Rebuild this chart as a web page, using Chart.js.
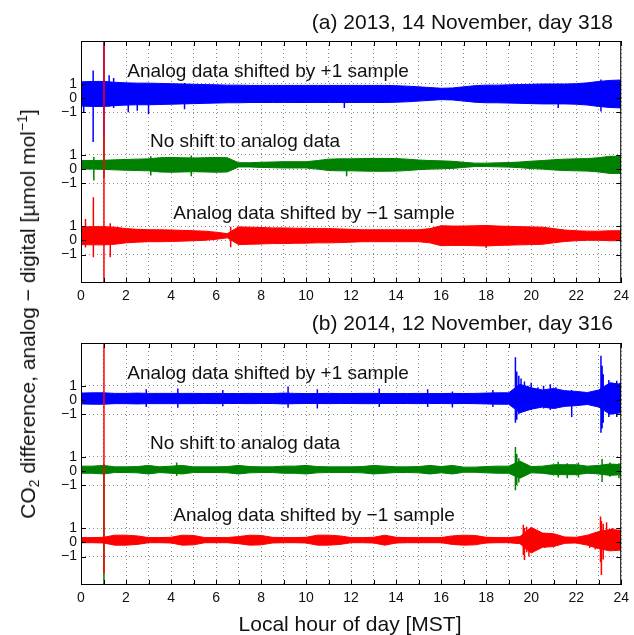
<!DOCTYPE html>
<html lang="en">
<head>
<meta charset="UTF-8">
<title>CO2 analog - digital</title>
<style>
  body { margin: 0; background: #fff; }
  #wrap { position: relative; width: 634px; height: 635px; font-family: "Liberation Sans", Arial, sans-serif; color: #111; }
  canvas { position: absolute; left: 0; }
  .txt { position: absolute; white-space: nowrap; line-height: 1; transform: translate(-50%, -50%); }
  .ttl { position: absolute; white-space: nowrap; line-height: 1; right: 21px; font-size: 21px; transform: translateY(-50%); }
  .note { font-size: 19px; }
  #ylab { font-size: 21px; transform: translate(-50%, -50%) rotate(-90deg); }
  #ylab sub, #ylab sup { font-size: 14px; }
  #ylab sub { vertical-align: -4px; }
  #ylab sup { vertical-align: 8px; }
  #xlab { font-size: 21px; }
</style>
</head>
<body>
<div id="wrap">
  <canvas id="chartA" width="634" height="310" style="top:0"></canvas>
  <canvas id="chartB" width="634" height="325" style="top:310px"></canvas>

  <div class="ttl" style="top:21px">(a) 2013, 14 November, day 318</div>
  <div class="ttl" style="top:322px">(b) 2014, 12 November, day 316</div>

  <div class="txt note" style="left:268px; top:70px">Analog data shifted by +1 sample</div>
  <div class="txt note" style="left:245px; top:140px">No shift to analog data</div>
  <div class="txt note" style="left:314px; top:212px">Analog data shifted by −1 sample</div>
  <div class="txt note" style="left:268px; top:372px">Analog data shifted by +1 sample</div>
  <div class="txt note" style="left:245px; top:442px">No shift to analog data</div>
  <div class="txt note" style="left:314px; top:514px">Analog data shifted by −1 sample</div>

  <div class="txt" id="ylab" style="left:28px; top:314px">CO<sub>2</sub> difference, analog − digital [µmol mol<sup>−1</sup>]</div>
  <div class="txt" id="xlab" style="left:350px; top:623px">Local hour of day [MST]</div>
</div>

<script src="https://cdn.jsdelivr.net/npm/chart.js"></script>
<script>
  // half-hour grid, local hour
  const hours = [0,0.5,1,1.5,2,2.5,3,3.5,4,4.5,
                 5,5.5,6,6.5,7,7.5,8,8.5,9,9.5,
                 10,10.5,11,11.5,12,12.5,13,13.5,14,14.5,
                 15,15.5,16,16.5,17,17.5,18,18.5,19,19.5,
                 20,20.5,21,21.5,22,22.5,23,23.5,24];

  // each trace is drawn around its own zero line
  const trackOffset = [5, 0, -5];   // +1 sample, no shift, -1 sample
  const yTickVals = [6, 5, 4, 1, 0, -1, -4, -5, -6];
  const yTickText = ["1", "0", "\u22121", "1", "0", "\u22121", "1", "0", "\u22121"];
  const xTickVals = [0,1,2,3,4,5,6,7,8,9,10,11,12,13,14,15,16,17,18,19,20,21,22,23,24];

  // (a) 2013 day 318 : band middle and half width of the noise, umol/mol
  const aBlueMid = 0.28;
  const aBlueHalf = [0.85,0.88,0.88,0.82,0.78,0.76,0.76,0.74,0.72,0.70,
                     0.68,0.66,0.64,0.62,0.62,0.60,0.60,0.60,0.60,0.60,
                     0.60,0.60,0.60,0.60,0.60,0.60,0.60,0.60,0.58,0.55,
                     0.50,0.45,0.40,0.42,0.50,0.58,0.62,0.62,0.64,0.66,
                     0.68,0.70,0.70,0.70,0.72,0.78,0.88,0.95,0.98];
  const aGreenMid = 0.3;
  const aGreenHalf = [0.30,0.30,0.32,0.35,0.38,0.40,0.42,0.50,0.52,0.50,
                      0.48,0.50,0.52,0.50,0.15,0.15,0.18,0.20,0.22,0.22,
                      0.22,0.30,0.40,0.42,0.42,0.44,0.45,0.45,0.44,0.40,
                      0.34,0.30,0.28,0.25,0.18,0.12,0.12,0.14,0.16,0.20,
                      0.26,0.30,0.36,0.40,0.42,0.44,0.50,0.60,0.60];
  const aRedMid = 0.32;
  const aRedHalf = [0.62,0.64,0.64,0.60,0.50,0.45,0.42,0.42,0.40,0.38,
                    0.35,0.32,0.25,0.15,0.62,0.60,0.58,0.55,0.55,0.53,
                    0.52,0.50,0.50,0.48,0.45,0.42,0.42,0.42,0.42,0.42,
                    0.42,0.50,0.70,0.68,0.68,0.70,0.72,0.68,0.66,0.64,
                    0.62,0.60,0.50,0.40,0.35,0.32,0.32,0.35,0.35];
  // spikes: [hour, max, min]
  const aBlueSpikes = [[0.12,1.0,-1.0],[0.54,1.93,-3.1],[1.02,5,-2.8],[1.25,1.6,-0.6],[1.45,1.4,-0.7],
                       [2.1,1.05,-1.0],[2.5,1.0,-0.9],[3.0,1.0,-1.15],[4.6,1.05,-0.8],[11.7,0.9,-0.7],
                       [21.2,1.0,-0.7],[23.1,1.3,-0.95]];
  const aGreenSpikes = [[0.57,0.85,-0.8],[1.02,2.24,-0.6],[3.1,0.9,-0.45],[4.9,0.95,-0.5],[11.8,0.7,-0.5]];
  const aRedSpikes = [[0.2,1.5,-0.5],[0.55,3.03,-1.19],[1.02,15,-5],[1.3,1.2,-1.19],[6.65,0.95,-0.48],[18.0,1.0,-0.55]];

  // (b) 2014 day 316
  const bBlueMid = 0.1;
  const bBlueHalf = [0.38,0.40,0.40,0.36,0.36,0.38,0.36,0.36,0.36,0.36,
                     0.36,0.35,0.36,0.35,0.35,0.36,0.35,0.35,0.38,0.36,
                     0.35,0.35,0.36,0.35,0.35,0.36,0.36,0.35,0.35,0.35,
                     0.36,0.35,0.35,0.36,0.35,0.36,0.38,0.40,0.40,1.00,
                     0.75,0.60,0.70,0.55,0.50,0.42,0.60,1.10,1.00];
  const bGreenMid = 0.1;
  const bGreenHalf = [0.25,0.25,0.30,0.20,0.20,0.22,0.30,0.20,0.25,0.30,
                      0.20,0.20,0.20,0.22,0.30,0.22,0.20,0.20,0.25,0.25,
                      0.30,0.22,0.20,0.20,0.20,0.22,0.30,0.25,0.20,0.20,
                      0.22,0.30,0.22,0.30,0.18,0.18,0.22,0.25,0.25,0.60,
                      0.22,0.25,0.35,0.35,0.35,0.25,0.30,0.40,0.35];
  const bRedMid = 0.15;
  const bRedHalf = [0.18,0.18,0.20,0.35,0.35,0.30,0.18,0.18,0.20,0.35,
                    0.33,0.18,0.18,0.18,0.25,0.35,0.33,0.20,0.18,0.18,
                    0.20,0.35,0.35,0.30,0.18,0.18,0.20,0.35,0.20,0.18,
                    0.18,0.18,0.18,0.30,0.35,0.33,0.20,0.18,0.18,0.25,
                    0.90,0.50,0.45,0.22,0.20,0.35,0.60,0.75,0.70];
  const bBlueSpikes = [[2.9,0.75,-0.5],[4.3,0.8,-0.55],[6.3,0.7,-0.45],[9.2,0.95,-0.55],[10.5,0.75,-0.6],
                       [13.25,0.8,-0.5],[15.4,0.75,-0.5],[16.5,0.6,-0.53],[18.3,0.7,-0.5],
                       [19.3,3.0,-1.6],[19.36,2.0,-1.4],[19.45,1.7,-1.0],[19.55,1.5,-0.9],[19.7,1.3,-0.8],
                       [19.85,1.0,-0.6],[20.0,1.2,-0.7],[20.3,0.9,-0.5],[20.55,1.0,-0.6],[20.85,1.1,-0.7],
                       [21.1,0.9,-0.6],[21.8,0.7,-1.2],[23.1,3.1,-2.3],[23.15,2.4,-2.0],[23.2,1.8,-1.6],
                       [23.45,1.4,-1.2],[23.6,1.2,-1.0],[23.8,1.35,-1.2],[23.95,1.2,-0.9]];
  const bGreenSpikes = [[1.02,0.5,-9.5],[4.25,0.6,-0.35],[19.3,1.7,-1.35],[19.36,1.2,-1.0],[19.45,0.9,-0.8],
                        [19.55,0.6,-0.4],[21.2,0.65,-0.45],[21.6,0.55,-0.5],[22.1,0.6,-0.45],
                        [23.15,0.85,-0.77],[23.5,0.6,-0.4],[23.9,0.55,-0.5]];
  const bRedSpikes = [[1.02,15,-2.2],[19.65,1.23,-0.9],[19.7,1.0,-1.25],[19.8,1.1,-0.7],[19.9,0.9,-1.0],
                      [20.0,0.9,-0.6],[20.3,0.7,-0.45],[20.6,0.6,-0.4],[22.6,0.5,-0.4],[22.85,0.7,-0.5],
                      [23.08,1.82,-1.4],[23.12,1.5,-2.29],[23.2,1.3,-1.2],[23.35,1.4,-0.4],[23.6,1.0,-0.5]];

  const blue = "#0000ff", green = "#008000", red = "#ff0000";

  function trace(mid, half, spikes, off, color, order) {
    const up = hours.map((h, i) => ({ x: h, y: off + mid + half[i] }));
    const lo = hours.map((h, i) => ({ x: h, y: off + mid - half[i] }));
    const sp = [];
    spikes.forEach(s => {
      sp.push({ x: s[0], y: off + s[1] });
      sp.push({ x: s[0], y: off + s[2] });
      sp.push({ x: s[0], y: null });
    });
    const base = { borderColor: color, backgroundColor: color, pointRadius: 0, borderWidth: 1, tension: 0, order: order };
    return [
      Object.assign({}, base, { data: up, fill: "+1" }),
      Object.assign({}, base, { data: lo, fill: false }),
      Object.assign({}, base, { data: sp, fill: false, spanGaps: false, borderWidth: 1.5 })
    ];
  }

  const frame = {
    id: "frame",
    afterDatasetsDraw(chart) {
      const { ctx, chartArea: a, scales } = chart;
      ctx.save();
      ctx.strokeStyle = "#000";
      ctx.lineWidth = 1;
      ctx.beginPath();
      scales.x.ticks.forEach(t => {
        const px = Math.round(scales.x.getPixelForValue(t.value)) + 0.5;
        ctx.moveTo(px, a.bottom); ctx.lineTo(px, a.bottom - 5);
        ctx.moveTo(px, a.top); ctx.lineTo(px, a.top + 5);
      });
      scales.y.ticks.forEach(t => {
        const py = Math.round(scales.y.getPixelForValue(t.value)) + 0.5;
        ctx.moveTo(a.left, py); ctx.lineTo(a.left + 5, py);
        ctx.moveTo(a.right, py); ctx.lineTo(a.right - 5, py);
      });
      ctx.stroke();
      ctx.strokeRect(a.left + 0.5, a.top + 0.5, a.width - 1, a.height - 1);
      ctx.restore();
    }
  };

  function makeChart(id, datasets, padTop, xHeight) {
    return new Chart(document.getElementById(id), {
      type: "line",
      data: { datasets: datasets },
      options: {
        responsive: false,
        animation: false,
        devicePixelRatio: 1,
        layout: { padding: { left: 0, right: 8, top: padTop, bottom: 0 } },
        plugins: { legend: { display: false }, tooltip: { enabled: false } },
        scales: {
          x: {
            type: "linear", min: 0, max: 24,
            afterBuildTicks: s => { s.ticks = xTickVals.map(v => ({ value: v })); },
            afterFit: s => { s.height = xHeight; },
            ticks: {
              autoSkip: false, maxRotation: 0, padding: 5, color: "#111",
              font: { family: "Liberation Sans", size: 14 },
              callback: v => (v % 2 === 0 ? String(v) : "")
            },
            grid: { color: "#8a8a8a", drawTicks: false },
            border: { display: false, dash: [1, 3] }
          },
          y: {
            type: "linear", min: -8, max: 9,
            afterBuildTicks: s => { s.ticks = yTickVals.map(v => ({ value: v })); },
            afterFit: s => { s.width = 81; },
            ticks: {
              autoSkip: false, padding: 4, color: "#111",
              font: { family: "Liberation Sans", size: 14 },
              callback: v => yTickText[yTickVals.indexOf(v)]
            },
            grid: { color: "#8a8a8a", drawTicks: false },
            border: { display: false, dash: [1, 3] }
          }
        }
      },
      plugins: [frame]
    });
  }

  const setsA = [].concat(
    trace(aRedMid, aRedHalf, aRedSpikes, trackOffset[2], red, 1),
    trace(aGreenMid, aGreenHalf, aGreenSpikes, trackOffset[1], green, 2),
    trace(aBlueMid, aBlueHalf, aBlueSpikes, trackOffset[0], blue, 3)
  );
  const setsB = [].concat(
    trace(bRedMid, bRedHalf, bRedSpikes, trackOffset[2], red, 1),
    trace(bGreenMid, bGreenHalf, bGreenSpikes, trackOffset[1], green, 2),
    trace(bBlueMid, bBlueHalf, bBlueSpikes, trackOffset[0], blue, 3)
  );

  makeChart("chartA", setsA, 41, 27);
  makeChart("chartB", setsB, 33, 50);
</script>
</body>
</html>
